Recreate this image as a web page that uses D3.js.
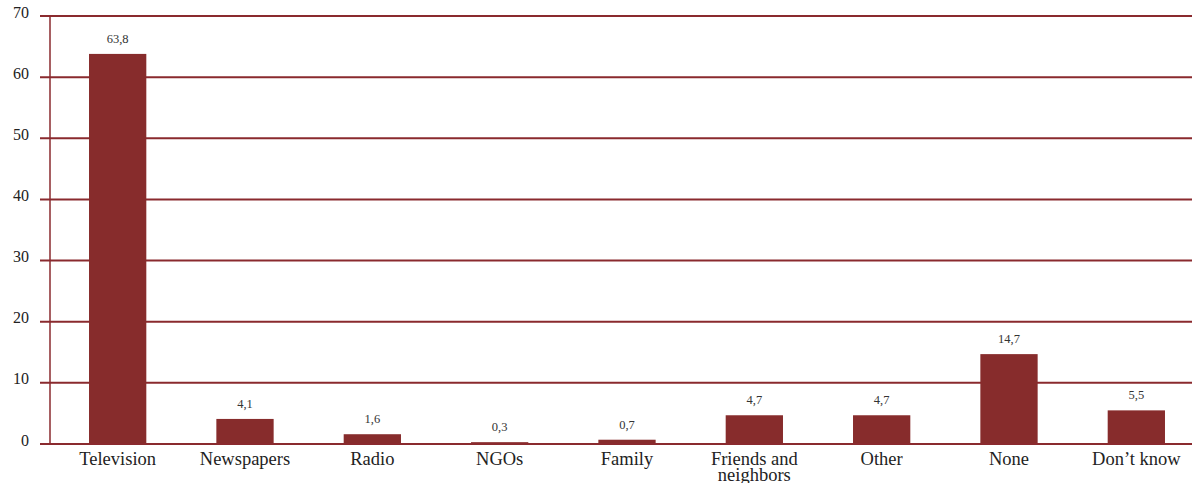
<!DOCTYPE html>
<html>
<head>
<meta charset="utf-8">
<script src="https://cdn.jsdelivr.net/npm/d3@7/dist/d3.min.js"></script>
<style>
  html, body { margin: 0; padding: 0; background: #fff; }
  svg { display: block; font-family: "Liberation Serif", "Times New Roman", serif; }
</style>
</head>
<body>
<svg id="chart" width="1192" height="483"></svg>
<script>
// Main source of information (%)
const categories = ["Television", "Newspapers", "Radio", "NGOs", "Family", "Friends and neighbors", "Other", "None", "Don\u2019t know"];
const values = [63.8, 4.1, 1.6, 0.3, 0.7, 4.7, 4.7, 14.7, 5.5];
const valueLabels = ["63,8", "4,1", "1,6", "0,3", "0,7", "4,7", "4,7", "14,7", "5,5"];
const yTicks = [0, 10, 20, 30, 40, 50, 60, 70];

const barColor = "#872c2c";
const lineColor = "#8a2a2e";

const svg = d3.select("#chart");
const margin = { top: 16, left: 50, bottom: 39 };
const width = 1192, height = 483;
const plotBottom = height - margin.bottom;

const y = d3.scaleLinear().domain([0, 70]).range([plotBottom, margin.top]);
const x = d3.scaleBand().domain(categories).range([54, 1200]).paddingInner(0.55).paddingOuter(0.275);

// horizontal gridlines with tick stubs
const grid = svg.append("g");
grid.selectAll("line.grid")
  .data(yTicks)
  .join("line")
  .attr("class", "grid")
  .attr("x1", 40).attr("x2", width)
  .attr("y1", d => y(d)).attr("y2", d => y(d))
  .attr("stroke", lineColor).attr("stroke-width", 2);

// vertical axis line
svg.append("line")
  .attr("x1", margin.left).attr("x2", margin.left)
  .attr("y1", y(70)).attr("y2", y(0))
  .attr("stroke", lineColor).attr("stroke-width", 1.5);

// y tick labels
svg.append("g").selectAll("text")
  .data(yTicks)
  .join("text")
  .attr("x", 29).attr("y", d => y(d))
  .attr("dy", "0.1em")
  .attr("text-anchor", "end")
  .attr("font-size", 16)
  .attr("fill", "#222")
  .text(d => d);

// bars
svg.append("g").selectAll("rect")
  .data(values)
  .join("rect")
  .attr("x", (d, i) => x(categories[i]))
  .attr("width", x.bandwidth())
  .attr("y", d => y(d))
  .attr("height", d => y(0) - y(d))
  .attr("fill", barColor);

// baseline redrawn over bars
svg.append("line")
  .attr("x1", 40).attr("x2", width)
  .attr("y1", y(0)).attr("y2", y(0))
  .attr("stroke", lineColor).attr("stroke-width", 2);

// value labels
svg.append("g").selectAll("text")
  .data(values)
  .join("text")
  .attr("x", (d, i) => x(categories[i]) + x.bandwidth() / 2)
  .attr("y", d => y(d) - 11)
  .attr("text-anchor", "middle")
  .attr("font-size", 12.5)
  .attr("fill", "#333")
  .text((d, i) => valueLabels[i]);

// category labels (wrapped to two lines where needed)
const catG = svg.append("g");
categories.forEach((c, i) => {
  const cx = x(c) + x.bandwidth() / 2;
  const t = catG.append("text")
    .attr("x", cx).attr("y", 465)
    .attr("text-anchor", "middle")
    .attr("font-size", 18.5)
    .attr("fill", "#222");
  const lines = c === "Friends and neighbors" ? ["Friends and", "neighbors"] : [c];
  lines.forEach((ln, k) => {
    t.append("tspan").attr("x", cx).attr("dy", k === 0 ? 0 : 16).text(ln);
  });
});
</script>
</body>
</html>
